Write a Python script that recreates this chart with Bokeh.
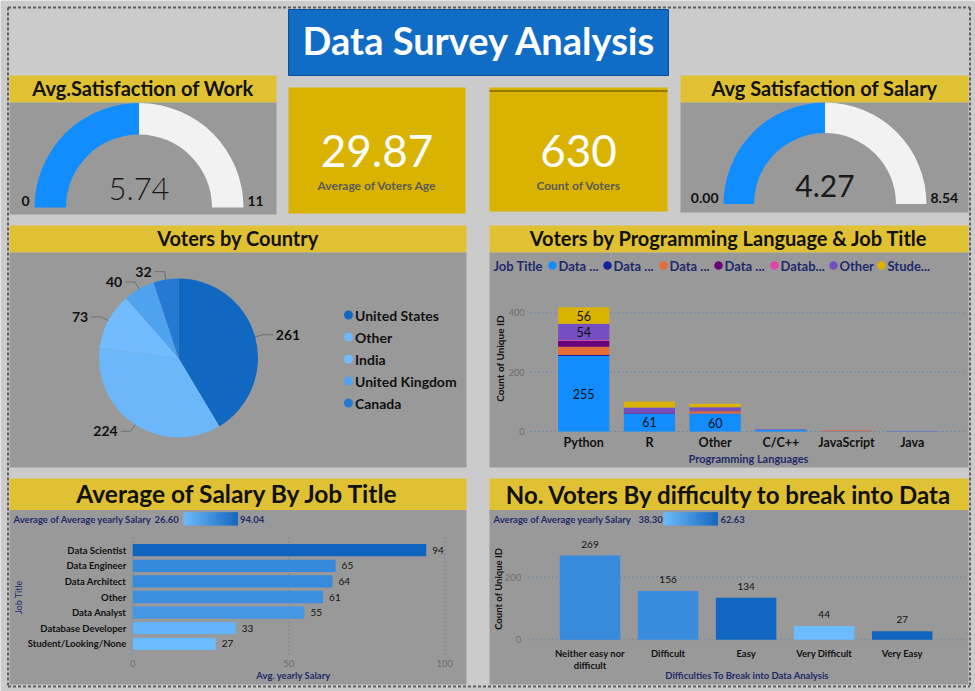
import textwrap
from math import pi

import numpy as np
from bokeh.core.properties import value
from bokeh.embed import file_html
from bokeh.models import ColumnDataSource, Range1d
from bokeh.plotting import figure
from bokeh.resources import INLINE
from bokeh.transform import stack

# ---------------------------------------------------------------- data
avg_work_satisfaction = 5.74
work_gauge_max = 11.48
avg_salary_satisfaction = 4.27
salary_gauge_max = 8.54
avg_voter_age = 29.87
voter_count = 630

countries = ["United States", "Other", "India", "United Kingdom", "Canada"]
country_votes = [261, 224, 73, 40, 32]

languages = ["Python", "R", "Other", "C/C++", "JavaScript", "Java"]
job_titles = ["Data Analyst", "Data Architect", "Data Engineer", "Data Scientist",
              "Database Developer", "Other", "Student/Looking/None"]
job_legend_labels = ["Data ...", "Data ...", "Data ...", "Data ...", "Datab...", "Other", "Stude..."]
lang_data_analyst = [255, 61, 60, 6, 1, 1]
lang_data_architect = [3, 0, 1, 0, 0, 0]
lang_data_engineer = [28, 0, 7, 0, 3, 0]
lang_data_scientist = [20, 3, 2, 0, 0, 0]
lang_database_developer = [3, 0, 0, 0, 0, 0]
lang_other = [54, 17, 12, 2, 0, 1]
lang_student = [56, 20, 12, 0, 0, 0]
lang_ticks = [0, 200, 400]

salary_jobs = ["Data Scientist", "Data Engineer", "Data Architect", "Other",
               "Data Analyst", "Database Developer", "Student/Looking/None"]
salary_avg = [94.04, 65, 64, 61, 55, 33, 26.60]
salary_ticks = [0, 50, 100]

difficulty_levels = ["Neither easy nor difficult", "Difficult", "Easy", "Very Difficult", "Very Easy"]
difficulty_votes = [269, 156, 134, 44, 27]
difficulty_salary = [51.9, 51.6, 62.1, 38.30, 62.63]
difficulty_ticks = [0, 200]

# ---------------------------------------------------------------- styles
PAGE_BG = "#cbcbcb"
PANEL_BG = "#999999"
HEADER_BG = "#e1c134"
CARD_BG = "#dab300"
TITLE_BG = "#106cc4"
GAUGE_FILL = "#118dff"
GAUGE_TRACK = "#f2f2f2"
NAVY = "#1f2a6a"
TICK_GREY = "#6e6e6e"
INK = "#111111"
GRID_BLUE = "#4f7db5"
FONT = value("Lato")
THIN_FONT = value("Lato Light")
JOB_COLORS = ["#118dff", "#12239e", "#e66c37", "#6b007b", "#e044a7", "#744ec2", "#d9b300"]
COUNTRY_COLORS = ["#1068c1", "#6cb7fa", "#72bbff", "#4ea2ee", "#2479d2"]
GRAD_LO = np.array([108, 188, 255])
GRAD_HI = np.array([15, 100, 192])


def ramp(v, lo, hi):
    t = min(max((v - lo) / (hi - lo), 0.0), 1.0)
    r, g, b = (GRAD_LO + (GRAD_HI - GRAD_LO) * t).round().astype(int)
    return f"#{r:02x}{g:02x}{b:02x}"


def as_list(v):
    return list(v) if isinstance(v, (list, tuple, np.ndarray)) else [v]


def put_text(target, xs, ys, texts, size, color=INK, bold=False, align="center",
             baseline="alphabetic", angle=0.0, x_offset=0, y_offset=0, font=FONT):
    texts = as_list(texts)
    n = len(texts)
    xs = as_list(xs) * (n if not isinstance(xs, (list, tuple, np.ndarray)) else 1)
    ys = as_list(ys) * (n if not isinstance(ys, (list, tuple, np.ndarray)) else 1)
    if baseline == "alphabetic":
        # place by the cap-height centre so the given y acts as the baseline
        baseline = "middle"
        y_offset = y_offset - 0.36 * size
    target.text(x=xs, y=ys, text=texts, text_font=font, text_font_size=f"{size}px",
                text_font_style="bold" if bold else "normal", text_color=color,
                text_align=align, text_baseline=baseline, angle=angle,
                x_offset=x_offset, y_offset=y_offset)


# one page-sized canvas in pixel units (y grows downward)
p = figure(width=975, height=691, x_range=Range1d(0, 975), y_range=Range1d(691, 0),
           x_axis_type=None, y_axis_type=None, toolbar_location=None,
           output_backend="svg", min_border=0, background_fill_color=PAGE_BG,
           border_fill_color=PAGE_BG, outline_line_color=None)


def card(x0, x1, y0, y1, color):
    p.quad(left=[x0], right=[x1], top=[y0], bottom=[y1], fill_color=color, line_color=None)


def tile(x0, x1, y0, y_split, y1, title, size, base_shift):
    card(x0, x1, y0, y_split, HEADER_BG)
    card(x0, x1, y_split, y1, PANEL_BG)
    put_text(p, (x0 + x1) / 2, (y0 + y_split) / 2 + base_shift, title, size, bold=True)


# ---------------------------------------------------------------- heading
p.quad(left=[288], right=[668], top=[9], bottom=[75], fill_color=TITLE_BG, line_color="#0b4e98")
put_text(p, 479, 53, "Data Survey Analysis", 38, color="white", bold=True)

# ---------------------------------------------------------------- gauges
def gauge(x0, x1, y0, y_split, y1, title, val, vmax, cx, cy, r_in, r_out, fmt,
          val_font, val_size):
    tile(x0, x1, y0, y_split, y1, title, 20, 6.5)
    frac = val / vmax
    split = pi - frac * pi
    p.annular_wedge(x=[cx, cx], y=[cy, cy], inner_radius=r_in, outer_radius=r_out,
                    inner_radius_units="screen", outer_radius_units="screen",
                    start_angle=[split, 0], end_angle=[pi, split],
                    fill_color=[GAUGE_FILL, GAUGE_TRACK], line_color=None)
    put_text(p, cx, cy - 7, f"{val:.2f}", val_size, color="#1a1a1a", font=val_font)
    put_text(p, cx - r_out - 5, cy - 1, fmt.format(0), 14, bold=True, align="right")
    put_text(p, cx + r_out + 4, cy - 1, fmt.format(vmax), 14, bold=True, align="left")


gauge(9, 276, 75, 102, 214, "Avg.Satisfaction of Work", avg_work_satisfaction,
      work_gauge_max, 138.5, 207, 73, 104.5, "{:.0f}", THIN_FONT, 31)
gauge(680, 968, 75, 102, 212, "Avg Satisfaction of Salary", avg_salary_satisfaction,
      salary_gauge_max, 824.5, 203.5, 71, 101.5, "{:.2f}", FONT, 30)

# ---------------------------------------------------------------- KPI cards
card(288, 465, 87, 213, CARD_BG)
put_text(p, 376.5, 166, f"{avg_voter_age:.2f}", 44, color="white")
put_text(p, 376.5, 189, "Average of Voters Age", 12, color="#5a5a5a", bold=True)

card(489, 667, 87, 211, CARD_BG)
p.segment(x0=[489], x1=[667], y0=[90.5], y1=[90.5], line_color="#7d6400", line_width=1.5)
put_text(p, 578, 166, f"{voter_count}", 44, color="white")
put_text(p, 578, 189, "Count of Voters", 12, color="#5a5a5a", bold=True)

# ---------------------------------------------------------------- pie: voters by country
tile(9, 466, 225, 252, 467, "Voters by Country", 20, 6)
pcx, pcy, pr = 178, 357.5, 79.5
votes = np.array(country_votes, dtype=float)
cum = np.concatenate([[0.0], np.cumsum(votes / votes.sum())])
starts = pi / 2 - 2 * pi * cum[1:]
ends = pi / 2 - 2 * pi * cum[:-1]
p.wedge(x=pcx, y=pcy, radius=pr, radius_units="screen", start_angle=starts,
        end_angle=ends, fill_color=COUNTRY_COLORS, line_color=None)

mids = (starts + ends) / 2
lead_x, lead_y = [], []
for a, n in zip(mids, country_votes):
    c, s = np.cos(a), np.sin(a)
    px_, py_ = pcx + pr * c, pcy - pr * s
    ex, ey = px_ + 8 * c, py_ - 8 * s
    side = 1 if c >= 0 else -1
    hx = ex + side * 10
    lead_x.append([px_, ex, hx])
    lead_y.append([py_, ey, ey])
    put_text(p, hx + side * 3, ey, str(n), 14, bold=True,
             align="left" if side > 0 else "right", baseline="middle")
p.multi_line(xs=lead_x, ys=lead_y, line_color="#6f6f6f", line_width=1)

leg_y = [314.5 + 22 * i for i in range(len(countries))]
p.scatter(x=[348] * len(countries), y=leg_y, size=9, fill_color=COUNTRY_COLORS, line_color=None)
put_text(p, 354.5, leg_y, countries, 14, bold=True, align="left", baseline="middle")

# ---------------------------------------------------------------- stacked bars: language x job
tile(489, 968, 225, 252, 467, "Voters by Programming Language & Job Title", 20, 6)
put_text(p, 493, 265, "Job Title", 13, color=NAVY, bold=True, align="left", baseline="middle")
leg_dots = [552, 607, 663, 718, 774, 833, 881]
p.scatter(x=leg_dots, y=[265] * len(leg_dots), size=8.5, fill_color=JOB_COLORS, line_color=None)
put_text(p, [d + 6 for d in leg_dots], [265] * len(leg_dots), job_legend_labels, 13,
         color=NAVY, bold=True, align="left", baseline="middle")

lang_series = [lang_data_analyst, lang_data_architect, lang_data_engineer, lang_data_scientist,
               lang_database_developer, lang_other, lang_student]
src = ColumnDataSource(dict(idx=list(range(len(languages))), lang=languages,
                            **{name: vals for name, vals in zip(job_titles, lang_series)}))
lx0, lx1 = -0.81, len(languages) - 0.19
lang_sub = p.subplot(x_source=Range1d(lx0, lx1), y_source=Range1d(0, 400),
                     x_target=Range1d(530, 965), y_target=Range1d(431, 312.4))
lang_sub.segment(x0=lx0, x1=lx1, y0=lang_ticks, y1=lang_ticks, line_color=GRID_BLUE,
                 line_dash="1 3", line_width=1)
put_text(lang_sub, lx0, lang_ticks, [str(t) for t in lang_ticks], 9, color=TICK_GREY,
         align="right", baseline="middle", x_offset=-6)
for i, name in enumerate(job_titles):
    lang_sub.vbar(x="idx", width=0.78, bottom=stack(*job_titles[:i]) if i else 0,
                  top=stack(*job_titles[:i + 1]), source=src,
                  fill_color=JOB_COLORS[i], line_color=None)

seg_vals = np.array(lang_series, dtype=float)
seg_bottoms = np.vstack([np.zeros(len(languages)), np.cumsum(seg_vals, axis=0)[:-1]])
lab_x, lab_y, lab_t = [], [], []
for j in range(len(job_titles)):
    for k in range(len(languages)):
        if seg_vals[j, k] >= 50:
            lab_x.append(k)
            lab_y.append(seg_bottoms[j, k] + seg_vals[j, k] / 2)
            lab_t.append(str(int(seg_vals[j, k])))
put_text(lang_sub, lab_x, lab_y, lab_t, 12.5, baseline="middle")
put_text(lang_sub, list(range(len(languages))), 0, languages, 12.5, bold=True, y_offset=15.5)
put_text(p, 748, 462, "Programming Languages", 11, color=NAVY, bold=True)
put_text(p, 499, 358, "Count of Unique ID", 10, bold=True, angle=pi / 2, baseline="middle")


# ---------------------------------------------------------------- gradient legend helper
def gradient_legend(x_text, caption, x_lo, lo, x_bar, bar_w, x_hi, hi):
    put_text(p, x_text, 522, caption, 9.5, color=NAVY, bold=True, align="left")
    put_text(p, x_lo, 522, f"{lo:.2f}", 9.5, color=NAVY, bold=True, align="left")
    put_text(p, x_hi, 522, f"{hi:.2f}", 9.5, color=NAVY, bold=True, align="left")
    steps = int(bar_w)
    edges = np.linspace(x_bar, x_bar + bar_w, steps + 1)
    cols = [ramp(lo + (hi - lo) * t, lo, hi) for t in np.linspace(0, 1, steps)]
    p.quad(left=edges[:-1], right=edges[1:] + 0.4, top=511.7, bottom=525,
           fill_color=cols, line_color=None)


# ---------------------------------------------------------------- salary by job title
tile(9, 466, 478, 509.5, 684, "Average of Salary By Job Title", 24.5, 8.5)
sal_lo, sal_hi = min(salary_avg), max(salary_avg)
gradient_legend(13, "Average of Average yearly Salary", 154, sal_lo, 183, 54, 239.5, sal_hi)

n_jobs = len(salary_jobs)
sal_sub = p.subplot(x_source=Range1d(0, 100), y_source=Range1d(-0.5, n_jobs - 0.5),
                    x_target=Range1d(132.3, 444.3), y_target=Range1d(541.9, 651.1))
sal_sub.segment(x0=salary_ticks, x1=salary_ticks, y0=-0.8, y1=n_jobs - 0.2,
                line_color=GRID_BLUE, line_dash="1 3", line_width=1)
put_text(sal_sub, salary_ticks, n_jobs - 0.5, [str(t) for t in salary_ticks], 9.5,
         color=TICK_GREY, y_offset=15.5)
sal_sub.hbar(y=list(range(n_jobs)), left=0, right=salary_avg, height=0.79,
             fill_color=[ramp(v, sal_lo, sal_hi) for v in salary_avg], line_color=None)
put_text(sal_sub, salary_avg, list(range(n_jobs)), [f"{v:.0f}" for v in salary_avg], 10,
         align="left", baseline="middle", x_offset=6)
put_text(sal_sub, 0, list(range(n_jobs)), salary_jobs, 9.5, bold=True, align="right",
         baseline="middle", x_offset=-6.6)
put_text(p, 293, 678, "Avg. yearly Salary", 9.5, color=NAVY, bold=True)
put_text(p, 18, 596.7, "Job Title", 9, color=NAVY, angle=pi / 2, baseline="middle")

# ---------------------------------------------------------------- voters by difficulty
tile(489, 968, 478, 509.5, 684, "No. Voters By difficulty to break into Data", 24, 8.5)
dif_lo, dif_hi = min(difficulty_salary), max(difficulty_salary)
gradient_legend(493, "Average of Average yearly Salary", 638, dif_lo, 663, 54, 720, dif_hi)

n_dif = len(difficulty_levels)
dx0, dx1 = -0.792, n_dif - 0.198
dif_sub = p.subplot(x_source=Range1d(dx0, dx1), y_source=Range1d(0, 200),
                    x_target=Range1d(527.7, 964.3), y_target=Range1d(639.3, 576.7))
dif_sub.segment(x0=dx0, x1=dx1, y0=difficulty_ticks, y1=difficulty_ticks,
                line_color=GRID_BLUE, line_dash="1 3", line_width=1)
put_text(dif_sub, dx0, difficulty_ticks, [str(t) for t in difficulty_ticks], 9.5,
         color=TICK_GREY, align="right", baseline="middle", x_offset=-7)
dif_idx = list(range(n_dif))
dif_sub.vbar(x=dif_idx, bottom=0, top=difficulty_votes, width=0.775,
             fill_color=[ramp(v, dif_lo, dif_hi) for v in difficulty_salary], line_color=None)
put_text(dif_sub, dif_idx, difficulty_votes, [str(v) for v in difficulty_votes], 10,
         y_offset=-8)
wrapped = [textwrap.wrap(s, 16) for s in difficulty_levels]
put_text(dif_sub, dif_idx, 0, [w[0] for w in wrapped], 9.5, bold=True, y_offset=17.4)
second = [(i, w[1]) for i, w in enumerate(wrapped) if len(w) > 1]
if second:
    put_text(dif_sub, [i for i, _ in second], 0, [s for _, s in second], 9.5, bold=True,
             y_offset=29)
put_text(p, 746.7, 678, "Difficulties To Break into Data Analysis", 9.5, color=NAVY, bold=True)
put_text(p, 497.7, 588.3, "Count of Unique ID", 9.5, bold=True, angle=pi / 2, baseline="middle")

# ---------------------------------------------------------------- dotted page border
p.segment(x0=[7.5, 7.5, 7.5, 969.5], x1=[969.5, 969.5, 7.5, 969.5],
          y0=[7, 686, 7, 7], y1=[7, 686, 686, 686],
          line_color="#5e5e5e", line_width=2, line_dash="3 2")

open("out.html", "w").write(file_html(p, INLINE))
